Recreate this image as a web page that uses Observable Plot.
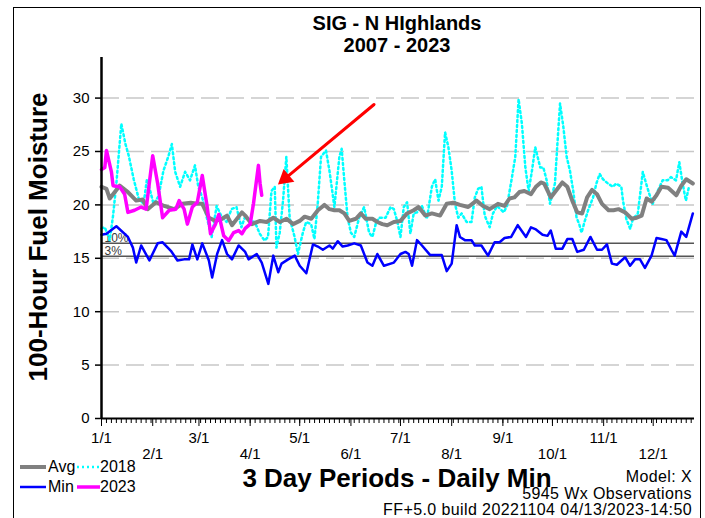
<!DOCTYPE html>
<html><head><meta charset="utf-8">
<script src="https://cdn.jsdelivr.net/npm/d3@7"></script>
<script src="https://cdn.jsdelivr.net/npm/@observablehq/plot@0.6"></script>
<style>
body{margin:0;background:#fff;font-family:"Liberation Sans",Arial,sans-serif;}
#wrap{position:relative;width:705px;height:518px;overflow:hidden;background:#fff;}
.t{position:absolute;white-space:nowrap;line-height:1;color:#000;}
</style></head><body>
<div id="wrap">
  <div style="position:absolute;left:13px;top:7px;width:688px;height:560px;border:1px solid #000;box-sizing:border-box;"></div>
  <div id="chart" style="position:absolute;left:0;top:0;"></div>
  <div class="t" style="left:397px;top:13px;transform:translateX(-50%);font-size:20px;font-weight:bold;">SIG - N HIghlands</div>
  <div class="t" style="left:397px;top:35px;transform:translateX(-50%);font-size:20px;font-weight:bold;">2007 - 2023</div>
  <div class="t" style="left:38px;top:237px;transform:translate(-50%,-50%) rotate(-90deg);font-size:26px;font-weight:bold;">100-Hour Fuel Moisture</div>
  <div class="t" style="left:397px;top:465px;transform:translateX(-50%);font-size:26px;font-weight:bold;">3 Day Periods - Daily Min</div>
  <div class="t" style="right:13px;top:469px;font-size:16px;letter-spacing:0.4px;">Model: X</div>
  <div class="t" style="right:13px;top:485.5px;font-size:16px;letter-spacing:0.4px;">5945 Wx Observations</div>
  <div class="t" style="right:13px;top:502px;font-size:16px;letter-spacing:0.4px;">FF+5.0 build 20221104 04/13/2023-14:50</div>
  <svg style="position:absolute;left:0;top:455px" width="140" height="45">
    <line x1="20" x2="46" y1="12" y2="12" stroke="#808080" stroke-width="4"/>
    <line x1="20" x2="46" y1="32" y2="32" stroke="#0000ff" stroke-width="2.5"/>
    <line x1="77" x2="100" y1="12" y2="12" stroke="#00ffff" stroke-width="2.5" stroke-dasharray="2,3"/>
    <line x1="77" x2="100" y1="32" y2="32" stroke="#ff00ff" stroke-width="3.5"/>
  </svg>
  <div class="t" style="left:48px;top:459px;font-size:16px;">Avg</div>
  <div class="t" style="left:48px;top:479px;font-size:16px;">Min</div>
  <div class="t" style="left:100px;top:459px;font-size:16px;">2018</div>
  <div class="t" style="left:100px;top:479px;font-size:16px;">2023</div>
</div>
<script>
// ---- data ----
const monthDays = [0,31,59,90,120,151,181,212,243,273,304,334];
const monthLabels = ["1/1","2/1","3/1","4/1","5/1","6/1","7/1","8/1","9/1","10/1","11/1","12/1"];
const yTicks = [0,5,10,15,20,25,30];
const thresholdVals = [16.4, 15.2];
const thresholdLabels = ["10%", "3%"];

const avgDay = [0,3,5,11,16,21,25,28,33,38,44,49,54,58,61,65,69,73,76,79,85,87,91,96,100,104,108,112,116,120,123,127,131,135,138,141,144,147,150,154,157,160,164,167,170,173,177,181,185,189,192,196,200,205,209,213,217,222,227,231,235,240,244,247,250,253,256,260,263,266,268,272,275,279,282,285,288,291,294,297,300,303,307,310,313,317,321,324,327,330,333,336,339,343,348,351,354,358];
const avgVal = [21.7,21.5,20.6,21.8,21.2,20.4,20.5,19.6,20.25,19.9,19.6,20.1,20.2,20.1,20.1,18.8,18.5,18.7,19.0,18.1,19.3,19.0,18.2,18.5,18.4,18.8,18.4,18.7,18.2,18.5,18.9,18.7,19.5,20.0,19.6,19.5,19.5,19.2,18.5,18.7,19.2,18.7,18.7,18.4,18.2,18.1,18.4,18.5,19.2,19.5,19.8,19.0,19.2,19.0,20.1,20.2,20.0,19.8,20.4,19.9,19.6,20.1,19.9,20.6,20.7,21.2,21.3,21.0,21.7,22.1,22.0,20.7,21.3,22.1,21.7,20.4,19.3,19.2,20.7,21.4,21.0,20.1,19.5,19.5,19.6,19.3,18.7,18.8,19.0,20.6,20.3,20.9,21.7,21.6,20.9,21.8,22.4,22.0];

const minDay = [0,3,9,16,19,21,24,29,34,37,42,46,50,53,55,58,61,65,67,70,73,76,79,83,87,89,94,97,101,104,107,109,113,117,120,124,128,131,134,138,140,143,146,149,153,157,161,164,167,171,177,181,184,186,188,191,194,199,206,209,212,215,217,220,224,226,230,234,238,241,244,248,252,257,260,263,267,270,272,275,279,282,285,288,292,296,300,303,306,309,312,317,320,323,326,329,333,336,339,342,345,347,351,354,358];
const minVal = [17.2,17.3,18.0,17.0,16.0,14.6,16.2,14.8,16.4,16.5,15.7,14.8,14.9,14.9,16.3,14.9,16.4,14.8,13.2,15.4,16.7,15.4,14.9,16.2,15.6,14.9,15.4,14.6,12.6,15.25,13.7,14.5,14.9,15.25,14.3,13.6,16.3,16.1,15.8,16.2,15.9,16.6,16.1,16.2,16.4,16.2,14.6,14.3,15.4,14.3,14.6,15.4,15.6,15.4,14.3,16.7,16.2,15.3,15.3,13.8,14.5,18.1,17.0,16.7,16.7,16.2,16.2,15.25,16.5,16.5,16.9,17.0,18.1,17.0,17.9,17.7,17.2,17.1,17.6,15.9,15.9,16.8,16.8,15.6,15.8,17.0,15.8,15.8,16.3,14.5,14.4,15.1,14.3,14.9,14.9,14.1,15.25,16.9,16.8,16.7,15.8,15.25,17.5,17.0,19.2];

const y2023Day = [0,2,3,6,7,11,14,16,20,24,27,31,34,37,41,45,47,50,52,55,58,61,64,66,69,71,74,77,80,83,85,87,90,92,95,96,97];
const y2023Val = [23.3,23.5,25.1,23.1,21.8,21.7,21.0,19.3,19.5,19.8,19.6,24.6,22.0,18.8,19.5,19.6,20.4,19.6,18.2,19.8,20.25,22.75,19.8,17.3,18.2,19.1,17.1,16.65,17.4,17.6,17.3,17.8,18.2,20.1,23.7,22.0,20.9];

const y2018Day = [0,2,5,7,9,12,14.5,16.5,19.5,22.5,25.5,27.5,29.5,31.5,34.5,37.5,40.6,42.6,44.6,47.6,50.6,53.6,56.6,58.6,61,63.6,66.7,69.7,72.7,75.7,78.7,81.7,84.7,86.7,89.8,92.8,95.8,98.8,100.8,102.9,104.9,105.9,107.9,109.9,111.9,113.9,116.9,118.9,121.9,123.9,126.9,128.9,130.9,132.9,135.9,138,141,144,145.4,147,149,151,153,156,159,162,164,166,168,172,175,177,179,181,183,185,187,189,191,194,197,200,202,204,206,208,210,212,214,216,218,221,224,226,228,230,232,235,237,239.5,243.5,245.5,248.5,250.5,252.5,254.5,256.6,258.6,260.6,262.6,265.6,267.5,269.5,271.5,274.5,276,277.6,279.6,281.6,283.6,285.6,287.6,289.2,290.6,292.6,294.6,297.6,299.6,301.6,303.6,306.6,309.6,311.6,314.7,315.7,317.7,320.1,321.7,324.7,327.7,329.7,331.7,333.7,336.7,339.7,342.7,344.7,347.8,349.8,351.8,353.8,355.8];
const y2018Val = [17.8,17.9,16.7,19.0,22.0,27.6,25.7,24.6,22.4,20.6,20.1,22.4,21.3,20.1,20.8,23.2,24.6,25.7,23.1,21.7,23.1,22.3,23.7,21.7,20.7,18.9,17.0,19.9,18.9,18.4,19.6,19.8,17.9,18.8,18.5,18.4,17.3,16.65,17.0,21.3,21.7,16.0,17.4,20.4,24.5,18.8,17.0,15.4,17.4,18.4,18.2,16.8,20.1,24.5,25.1,23.2,19.8,24.5,25.25,22.3,18.8,17.4,17.0,18.8,19.8,17.4,17.0,18.2,18.8,18.8,19.8,19.6,18.5,17.0,19.8,20.25,17.3,19.2,19.3,19.9,18.7,21.7,22.4,20.4,21.7,26.8,25.4,23.2,20.1,18.8,19.2,18.4,18.4,20.7,21.5,21.7,19.0,17.9,19.2,19.9,19.3,19.9,22.6,24.5,29.9,27.6,23.5,21.3,23.2,25.4,23.5,23.5,22.3,20.1,22.0,25.7,29.5,27.3,24.5,23.2,21.3,18.8,18.2,17.4,18.5,19.5,20.7,22.0,22.9,22.4,22.0,21.7,22.0,21.7,20.4,18.7,17.75,18.7,19.2,23.1,22.0,21.0,20.1,21.3,22.3,22.3,22.6,22.3,24.0,22.0,20.4,21.8];

// annotation arrow (in data units: day, fuel moisture)
const arrowFrom = {day: 165, v: 29.4};
const arrowTo = {day: 106.8, v: 21.9};

// ---- build ----
const toRows = (days, vals) => days.map((d, i) => ({day: d, v: vals[i]}));
const sAvg = toRows(avgDay, avgVal);
const sMin = toRows(minDay, minVal);
const s2023 = toRows(y2023Day, y2023Val);
const s2018 = toRows(y2018Day, y2018Val);
const thresholds = thresholdVals.map((v, i) => ({v, label: thresholdLabels[i]}));
const arrowRows = [{x1: arrowFrom.day, y1: arrowFrom.v, x2: arrowTo.day, y2: arrowTo.v}];
const minorDays = d3.range(0, 360, 3);
const oddMonths = monthDays.filter((d, i) => i % 2 === 0);
const evenMonths = monthDays.filter((d, i) => i % 2 === 1);
const monthFmt = d => monthLabels[monthDays.indexOf(d)];

const chart = Plot.plot({
  width: 705, height: 518,
  marginLeft: 101, marginRight: 11, marginTop: 57, marginBottom: 100,
  x: {domain: [0, 359], axis: null},
  y: {domain: [0, 33.8], axis: null},
  style: {fontFamily: "Liberation Sans, Arial, sans-serif", fontSize: "15px", color: "#000", background: "transparent", overflow: "visible"},
  marks: [
    Plot.ruleY(yTicks.filter(d => d > 0), {stroke: "#c8c8c8", strokeWidth: 1.5, strokeDasharray: "18,7"}),
    Plot.ruleY(thresholds, {y: "v", stroke: "#555", strokeWidth: 1.5}),
    Plot.text(thresholds, {x: () => 0, y: "v", text: "label", textAnchor: "start", lineAnchor: "bottom", dx: 3, dy: -1, fill: "#3a3a3a", fontSize: 12}),
    Plot.line(s2018, {x: "day", y: "v", stroke: "#00ffff", strokeWidth: 2.5, strokeDasharray: "2,3"}),
    Plot.line(sAvg, {x: "day", y: "v", stroke: "#808080", strokeWidth: 4}),
    Plot.line(sMin, {x: "day", y: "v", stroke: "#0000ff", strokeWidth: 2.5}),
    Plot.line(s2023, {x: "day", y: "v", stroke: "#ff00ff", strokeWidth: 3.5}),
    Plot.arrow(arrowRows, {x1: "x1", y1: "y1", x2: "x2", y2: "y2", stroke: "#ff0000", strokeWidth: 3, headLength: 0, insetEnd: 12}),
    Plot.dot(arrowRows, {x: "x2", y: "y2", symbol: "triangle", r: 6.2, fill: "#ff0000", stroke: null, rotate: 230, dx: 7.4, dy: -6.2}),
    Plot.ruleX([0], {stroke: "#000", strokeWidth: 2.5}),
    Plot.ruleY([0], {stroke: "#000", strokeWidth: 2}),
    Plot.axisY({ticks: yTicks, tickSize: 6, tickPadding: 6, label: null, tickFormat: d => String(d), strokeWidth: 1.5}),
    Plot.axisX({ticks: minorDays, tickSize: 5, tickFormat: () => "", label: null}),
    Plot.axisX({ticks: oddMonths, tickSize: 8, tickPadding: 6, tickFormat: monthFmt, label: null}),
    Plot.axisX({ticks: evenMonths, tickSize: 8, tickPadding: 22, tickFormat: monthFmt, label: null})
  ]
});
document.getElementById("chart").appendChild(chart);
</script>
</body></html>
